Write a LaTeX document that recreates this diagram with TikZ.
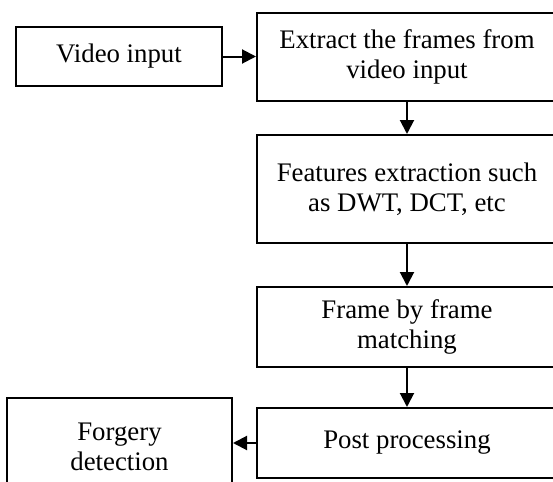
\documentclass[tikz,border=0pt]{standalone}
\usepackage{fontspec}
\setmainfont{Liberation Serif}
\usetikzlibrary{arrows.meta}

\begin{document}
\begin{tikzpicture}[x=0.5pt, y=-0.5pt,
        stage/.style={draw=black, line width=1pt, align=center, inner sep=0pt,
            font=\fontsize{13.4}{15}\selectfont},
        flow/.style={black, line width=1pt, -{Triangle[length=7pt, width=7pt]}}]
        \useasboundingbox (0, 0) rectangle (553, 482);
        \clip (0, 0) rectangle (553, 482);

        \node (0) at (119, 56.5)[stage, minimum width=103pt, minimum height=29.5pt] {Video input};
        \node (1) at (407, 56.5)[stage, minimum width=150pt, minimum height=44pt] {Extract the frames from\\video input};
        \node (2) at (407, 189)[stage, minimum width=150pt, minimum height=54pt] {Features extraction such\\as DWT, DCT, etc};
        \node (3) at (407, 327)[stage, minimum width=150pt, minimum height=40pt] {Frame by frame\\matching};
        \node (4) at (407, 443)[stage, minimum width=150pt, minimum height=35pt] {Post processing};
        \node (5) at (119.5, 446.5)[stage, minimum width=112.5pt, minimum height=48.5pt] {Forgery\\detection};

        \draw[flow] (0) -- (1);
        \draw[flow] (1) -- (2);
        \draw[flow] (2) -- (3);
        \draw[flow] (3) -- (4);
        \draw[flow] (4) -- (4 -| 5.east);
    \end{tikzpicture}
\end{document}
